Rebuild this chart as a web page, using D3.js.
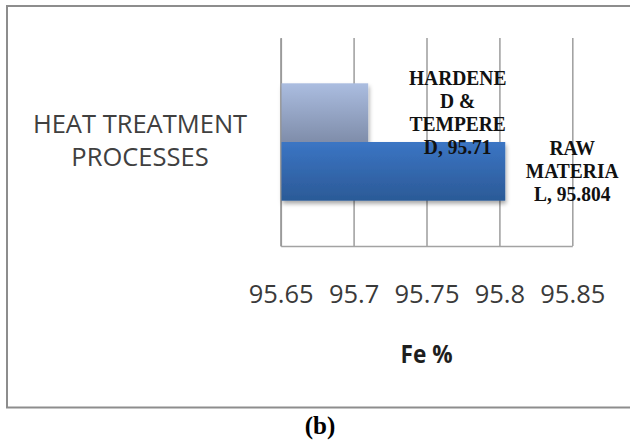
<!DOCTYPE html>
<html>
<head>
<meta charset="utf-8">
<script src="https://cdn.jsdelivr.net/npm/d3@7"></script>
<style>
  body { margin: 0; background: #fff; }
  svg { display: block; }
</style>
</head>
<body>
<svg id="chart" width="630" height="444"></svg>
<script>
// ---- data ----
const categories = ["HEAT TREATMENT PROCESSES"];
const categoryLines = [["HEAT TREATMENT", "PROCESSES"]];
const seriesNames = ["RAW MATERIAL", "HARDENED & TEMPERED"];
const seriesValues = [95.804, 95.71];
// wrapped name text of each data label; the value is appended to the last line
const seriesLabelLines = [["RAW", "MATERIA", "L"], ["HARDENE", "D &", "TEMPERE", "D"]];
const xTicks = [95.65, 95.7, 95.75, 95.8, 95.85];
const xDomain = [95.65, 95.85];
const xTitle = "Fe %";
const caption = "(b)";

// ---- layout / style ----
const plot = { left: 280.7, right: 572.3, top: 38, bottom: 246 };
const sans = "'Open Sans', 'Liberation Sans', sans-serif";
const serif = "'Liberation Serif', 'Times New Roman', serif";
const gridColor = "#a3a3a3";
const labelOffset = { "RAW MATERIAL": 67, "HARDENED & TEMPERED": 89.5 };
const gradients = {
  "RAW MATERIAL": ["#3b75c4", "#2b5a97"],
  "HARDENED & TEMPERED": ["#abbde0", "#7f8daa"]
};

const svg = d3.select("#chart");
const defs = svg.append("defs");

// vertical gradients for the bars
seriesNames.forEach((name, i) => {
  const g = defs.append("linearGradient")
    .attr("id", "grad" + i)
    .attr("x1", 0).attr("y1", 0).attr("x2", 0).attr("y2", 1);
  g.append("stop").attr("offset", "0%").attr("stop-color", gradients[name][0]);
  g.append("stop").attr("offset", "100%").attr("stop-color", gradients[name][1]);
});

// soft shadow under the bars
const f = defs.append("filter").attr("id", "shadow")
  .attr("x", "-10%").attr("y", "-10%").attr("width", "130%").attr("height", "130%");
f.append("feDropShadow")
  .attr("dx", 1).attr("dy", 3).attr("stdDeviation", 2)
  .attr("flood-color", "#000").attr("flood-opacity", 0.35);

// outer frame
svg.append("rect")
  .attr("x", 7).attr("y", 6)
  .attr("width", 660).attr("height", 401.5)
  .attr("fill", "none")
  .attr("stroke", "#8d8d8d")
  .attr("stroke-width", 2);

// ---- scales ----
const x = d3.scaleLinear().domain(xDomain).range([plot.left, plot.right]);
const y0 = d3.scaleBand().domain(categories).range([plot.top, plot.bottom]).padding(0.2785);
const y1 = d3.scaleBand().domain(seriesNames.slice().reverse()).range([0, y0.bandwidth()]);

// ---- x axis with vertical gridlines ----
const xAxis = svg.append("g")
  .attr("transform", `translate(0,${plot.bottom})`)
  .call(d3.axisBottom(x)
    .tickValues(xTicks)
    .tickFormat(d => String(d))
    .tickSize(-(plot.bottom - plot.top))
    .tickSizeOuter(0));
xAxis.select(".domain").attr("stroke", gridColor).attr("stroke-width", 1.6);
xAxis.selectAll(".tick line").attr("stroke", gridColor).attr("stroke-width", 1.6);
xAxis.selectAll(".tick text")
  .attr("y", 57).attr("dy", null)
  .attr("fill", "#3a3a3a")
  .style("font-family", sans)
  .style("font-size", "25.5px");

// ---- y axis (category) ----
const yAxis = svg.append("g")
  .attr("transform", `translate(${plot.left},0)`)
  .call(d3.axisLeft(y0).tickSize(0));
yAxis.select(".domain").attr("stroke", "#9a9a9a").attr("stroke-width", 1.8);
yAxis.selectAll(".tick text").each(function (d) {
  const t = d3.select(this);
  const lines = categoryLines[categories.indexOf(d)];
  t.text(null)
    .attr("x", 140 - plot.left)
    .attr("dy", null)
    .attr("y", 0)
    .attr("text-anchor", "middle")
    .attr("fill", "#404040")
    .style("font-family", sans)
    .style("font-size", "25.5px");
  lines.forEach((ln, i) => {
    t.append("tspan")
      .attr("x", 140 - plot.left)
      .attr("y", -9 + i * 33)
      .text(ln);
  });
});

// ---- bars ----
const rows = seriesNames.map((name, i) => ({
  name, value: seriesValues[i], idx: i, cat: categories[0], lines: seriesLabelLines[i]
}));

const barG = svg.append("g").attr("filter", "url(#shadow)");
barG.selectAll("rect")
  .data(rows)
  .join("rect")
  .attr("x", x(xDomain[0]) + 0.8)
  .attr("y", d => y0(d.cat) + y1(d.name))
  .attr("width", d => x(d.value) - x(xDomain[0]) - 0.8)
  .attr("height", y1.bandwidth())
  .attr("fill", d => `url(#grad${d.idx})`);

// ---- data labels (slightly tall serif lettering) ----
const lineH = 23;
const stretch = 1.12;
rows.forEach(d => {
  const lines = d.lines.slice();
  lines[lines.length - 1] = lines[lines.length - 1] + ", " + d.value;
  const cy = y0(d.cat) + y1(d.name) + y1.bandwidth() / 2;
  const cx = x(d.value) + labelOffset[d.name];
  const first = -(lines.length - 1) * lineH / 2 + 7;
  const t = svg.append("text")
    .attr("transform", `translate(${cx},${cy}) scale(1,${stretch})`)
    .attr("text-anchor", "middle")
    .attr("fill", "#111")
    .style("font-family", serif)
    .style("font-weight", "bold")
    .style("font-size", "19.5px");
  lines.forEach((ln, i) => {
    t.append("tspan").attr("x", 0).attr("y", (first + i * lineH) / stretch).text(ln);
  });
});

// ---- axis title ----
svg.append("text")
  .attr("x", (plot.left + plot.right) / 2)
  .attr("y", 362.5)
  .attr("text-anchor", "middle")
  .attr("fill", "#1e1e1e")
  .attr("textLength", 52)
  .attr("lengthAdjust", "spacingAndGlyphs")
  .style("font-family", sans)
  .style("font-weight", "bold")
  .style("font-size", "25px")
  .text(xTitle);

// ---- caption below the frame ----
svg.append("text")
  .attr("x", 320)
  .attr("y", 434)
  .attr("text-anchor", "middle")
  .attr("fill", "#000")
  .style("font-family", serif)
  .style("font-weight", "bold")
  .style("font-size", "25px")
  .text(caption);
</script>
</body>
</html>
